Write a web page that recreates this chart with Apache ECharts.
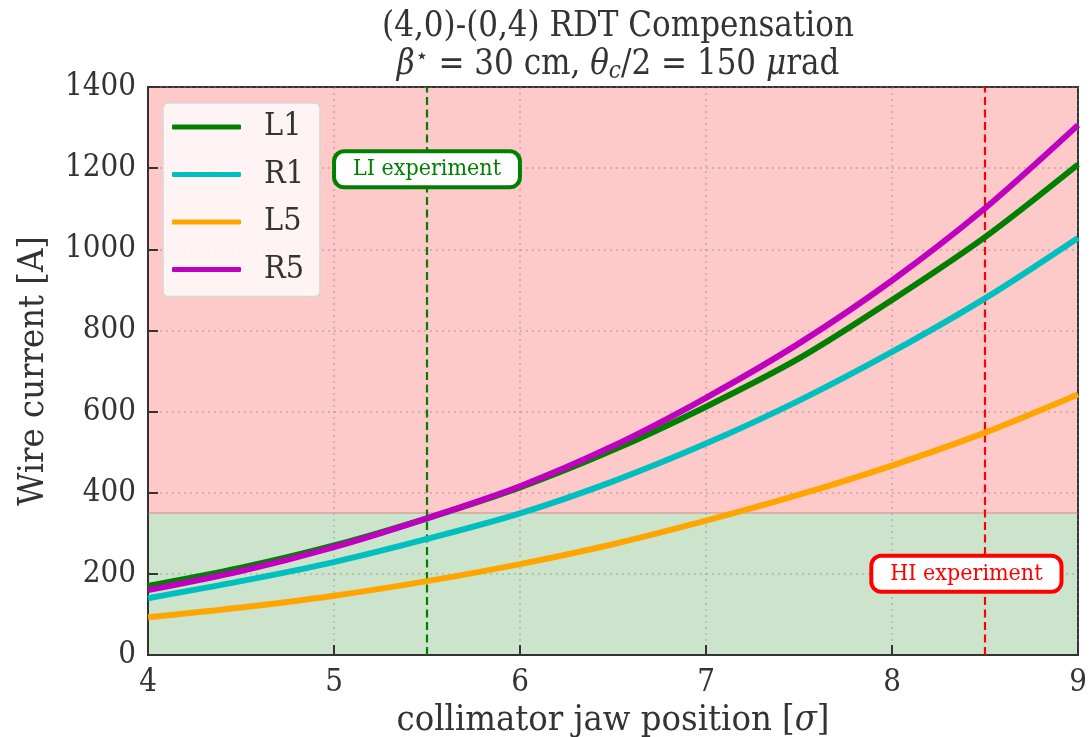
<!DOCTYPE html>
<html>
<head>
<meta charset="utf-8">
<script src="https://cdn.jsdelivr.net/npm/echarts@6/dist/echarts.min.js"></script>
<style>
html,body{margin:0;padding:0;background:#fff;}
#chart{width:1090px;height:737px;}
</style>
</head>
<body>
<div id="chart"></div>
<script>
// ---- data ----
const xValues = [4, 4.5, 5, 5.5, 6, 6.5, 7, 7.5, 8, 8.5, 9];
const L1 = [170, 215, 270, 337, 413, 505, 612, 731, 875, 1030, 1209];
const R1 = [140, 182, 229, 286, 349, 428, 521, 627, 747, 879, 1028];
const L5 = [93, 117, 146, 182, 224, 273, 331, 395, 467, 548, 642];
const R5 = [160, 207, 266, 337, 416, 515, 634, 768, 923, 1101, 1306];
const seriesNames = ['L1', 'R1', 'L5', 'R5'];
const seriesData = [L1, R1, L5, R5];
const seriesColors = ['#008000', '#00bfbf', '#ffa500', '#bf00bf'];
const greenLimit = 350;
const yMax = 1400;
const vLines = [5.5, 8.5];
const vLineColors = ['#008000', '#ff0000'];
const annotations = [
  { text: 'LI experiment', x: 5.5, y: 1197, color: '#008000' },
  { text: 'HI experiment', x: 8.4, y: 200, color: '#ff0000' }
];
const titleLine1 = '(4,0)-(0,4) RDT Compensation';
const xName = 'collimator jaw position [{i|σ}]';
const yName = 'Wire current [A]';

// font detection: prefer condensed serif (reference text is horizontally narrow)
function fontAvailable(name) {
  const c = document.createElement('canvas').getContext('2d');
  const s = 'collimator jaw position 1400 Wire';
  c.font = '40px monospace';
  const w0 = c.measureText(s).width;
  c.font = "40px '" + name + "', monospace";
  const w1 = c.measureText(s).width;
  c.font = "40px 'DejaVu Serif', monospace";
  const w2 = c.measureText(s).width;
  return w1 !== w0 && Math.abs(w1 - w2) > 1;
}
const COND = fontAvailable('DejaVu Serif Condensed');
const FONT = COND ? 'DejaVu Serif Condensed' : 'DejaVu Serif';
const fs = s => COND ? s : Math.round(s * 0.9);
const TXT = '#333333';

const chart = echarts.init(document.getElementById('chart'), null, { renderer: 'canvas' });

const lineSeries = seriesNames.map((name, i) => ({
  name: name,
  type: 'line',
  data: xValues.map((x, j) => [x, seriesData[i][j]]),
  smooth: 0.3,
  showSymbol: false,
  symbol: 'none',
  lineStyle: { color: seriesColors[i], width: 6 },
  itemStyle: { color: seriesColors[i] },
  z: 3 + i,
  silent: true
}));

const bgSeries = {
  name: 'bg',
  type: 'line',
  data: [],
  silent: true,
  markArea: {
    silent: true,
    z: -1,
    data: [
      [{ yAxis: 0, itemStyle: { color: '#cde4cc' } }, { yAxis: greenLimit }],
      [{ yAxis: greenLimit, itemStyle: { color: '#fdc9c9' } }, { yAxis: yMax }]
    ]
  },
  markLine: {
    silent: true,
    symbol: ['none', 'none'],
    label: { show: false },
    z: 2,
    data: [{ yAxis: greenLimit, lineStyle: { color: 'rgba(190,110,100,0.45)', width: 1.5, type: 'solid' } }]
      .concat(vLines.map((v, i) => ({
        xAxis: v,
        lineStyle: { color: vLineColors[i], width: 2.2, type: [8, 4.5] }
      })))
  }
};

const annSeries = annotations.map(a => ({
  name: 'ann_' + a.text,
  type: 'scatter',
  data: [[a.x, a.y]],
  symbolSize: 0,
  silent: true,
  z: 10,
  itemStyle: { opacity: 1 },
  label: {
    show: true,
    position: 'inside',
    formatter: a.text,
    fontFamily: FONT,
    fontSize: fs(23),
    color: a.color,
    backgroundColor: '#ffffff',
    borderColor: a.color,
    borderWidth: 4,
    borderRadius: 8,
    padding: [5, 17, 4, 17]
  }
}));

const option = {
  animation: false,
  backgroundColor: '#ffffff',
  textStyle: { fontFamily: FONT },
  title: {
    text: titleLine1 + '\n{i|β}{sup|⋆} = 30 cm, {i|θ}{sub|c}/2 = 150 {i|μ}rad',
    left: 613,
    top: 3,
    textAlign: 'center',
    textStyle: {
      fontFamily: FONT,
      fontSize: fs(34.5),
      fontWeight: 'normal',
      color: TXT,
      lineHeight: 38,
      rich: {
        i: { fontFamily: FONT, fontSize: fs(34.5), fontStyle: 'italic', color: TXT, lineHeight: 38 },
        sup: { fontFamily: FONT, fontSize: fs(22), color: TXT, verticalAlign: 'top', lineHeight: 38, padding: [0, 0, 12, 0] },
        sub: { fontFamily: FONT, fontSize: fs(24), fontStyle: 'italic', color: TXT, verticalAlign: 'bottom', lineHeight: 38, padding: [12, 0, 0, 0] }
      }
    }
  },
  legend: {
    orient: 'vertical',
    left: 163,
    top: 103,
    data: seriesNames,
    icon: 'roundRect',
    itemWidth: 69,
    itemHeight: 5,
    itemGap: 15.5,
    padding: [8, 16, 11, 9],
    backgroundColor: 'rgba(255,255,255,0.8)',
    borderColor: '#d6d6d6',
    borderWidth: 1.5,
    borderRadius: 5,
    textStyle: { fontFamily: FONT, fontSize: fs(32), lineHeight: 30, color: TXT, padding: [0, 0, 0, 18] },
    selectedMode: false
  },
  grid: {
    left: 148,
    right: 12,
    top: 87,
    bottom: 82,
    show: true,
    containLabel: false,
    outerBoundsMode: 'none',
    borderColor: '#333333',
    borderWidth: 2,
    backgroundColor: 'transparent'
  },
  xAxis: {
    type: 'value',
    min: 4,
    max: 9,
    interval: 1,
    name: xName,
    nameLocation: 'middle',
    nameGap: 41,
    nameTextStyle: {
      fontFamily: FONT, fontSize: fs(36), color: TXT,
      rich: { i: { fontFamily: FONT, fontSize: fs(36), fontStyle: 'italic', color: TXT } }
    },
    axisLine: { show: true, lineStyle: { color: '#333333', width: 2 } },
    axisTick: { show: true, inside: true, length: 10, lineStyle: { color: '#333333', width: 2 } },
    axisLabel: { fontFamily: FONT, fontSize: fs(31), color: TXT, margin: 12 },
    splitLine: { show: true, lineStyle: { color: 'rgba(128,128,128,0.45)', width: 1.5, type: [2, 4] } }
  },
  yAxis: {
    type: 'value',
    min: 0,
    max: yMax,
    interval: 200,
    name: yName,
    nameLocation: 'middle',
    nameGap: 96,
    nameTextStyle: { fontFamily: FONT, fontSize: fs(36), color: TXT },
    axisLine: { show: true, lineStyle: { color: '#333333', width: 2 } },
    axisTick: { show: true, inside: true, length: 10, lineStyle: { color: '#333333', width: 2 } },
    axisLabel: { fontFamily: FONT, fontSize: fs(31), color: TXT, margin: 12, formatter: v => String(v) },
    splitLine: { show: true, lineStyle: { color: 'rgba(128,128,128,0.45)', width: 1.5, type: [2, 4] } }
  },
  series: [bgSeries].concat(lineSeries).concat(annSeries)
};

chart.setOption(option);
</script>
</body>
</html>
